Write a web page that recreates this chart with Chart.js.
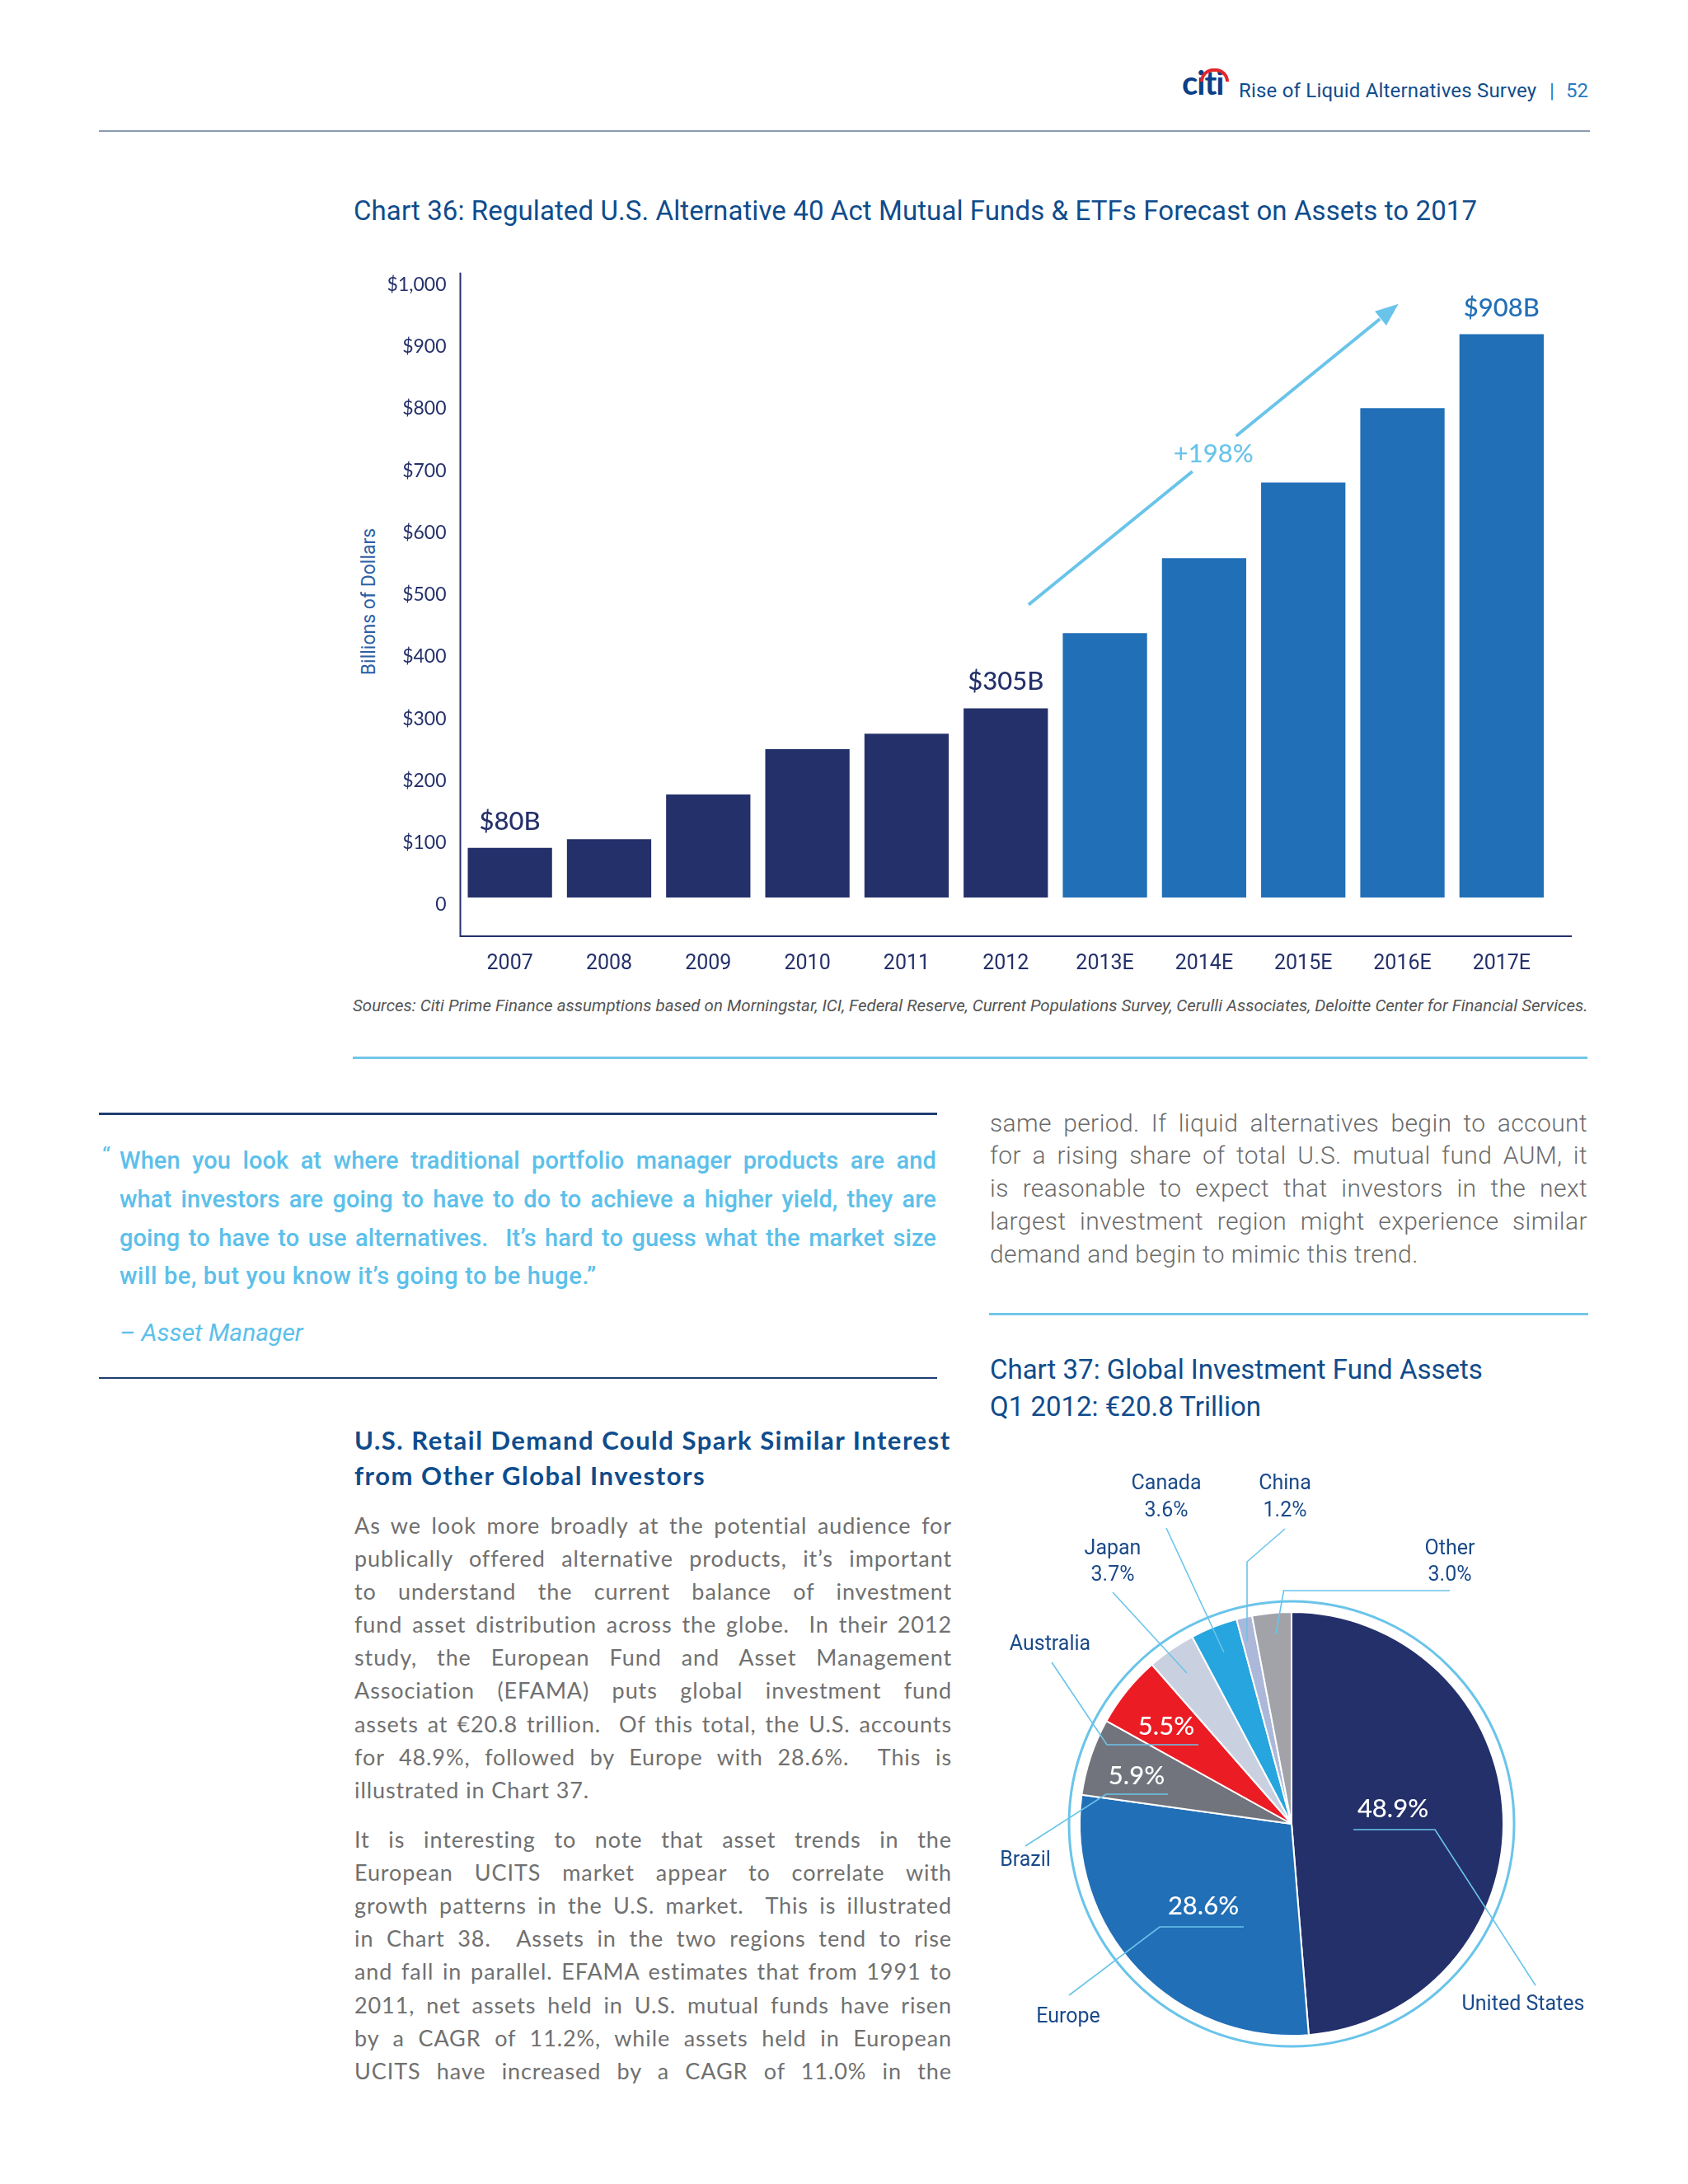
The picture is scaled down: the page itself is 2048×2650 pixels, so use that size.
<!DOCTYPE html>
<html>
<head>
<meta charset="utf-8">
<script src="https://cdn.jsdelivr.net/npm/chart.js@4.4.1/dist/chart.umd.min.js"></script>
<style>
  body { margin: 0; background: #fff; width: 2048px; height: 2650px; position: relative; overflow: hidden; font-family: Roboto, sans-serif; }
  .t { position: absolute; white-space: nowrap; }
  .rule { position: absolute; }
  .j { position: absolute; text-align: justify; text-align-last: justify; }
  .navy { color: #0f4c8c; }
  canvas { position: absolute; }
</style>
</head>
<body>

<!-- header -->
<div class="t" style="left:1434px;top:78px;font:bold 40px Lato;color:#0c3f87;letter-spacing:-1px;line-height:44px">citi</div>
<div style="position:absolute;left:1456px;top:83px;width:35px;height:16px;border:4px solid #e3262b;border-bottom:none;border-radius:20px 20px 0 0;box-sizing:border-box"></div>
<div class="t navy" style="left:1503px;top:95px;font-size:24px;line-height:30px;letter-spacing:0.2px">Rise of Liquid Alternatives Survey</div>
<div class="t" style="left:1880px;top:95px;font-size:24px;line-height:30px;color:#2a7bc0">|</div>
<div class="t" style="left:1900px;top:95px;font-size:24px;line-height:30px;color:#2a7bc0">52</div>
<div class="rule" style="left:120px;top:158px;width:1809px;height:2px;background:#8a9bb0"></div>

<!-- chart 36 -->
<div class="t navy" style="left:429px;top:236px;font-size:33px;line-height:40px;letter-spacing:0.1px">Chart 36: Regulated U.S. Alternative 40 Act Mutual Funds &amp; ETFs Forecast on Assets to 2017</div>
<div class="t" style="left:447px;top:730px;font-size:23px;color:#2d5fa6;transform:translate(-50%,-50%) rotate(-90deg)">Billions of Dollars</div>
<canvas id="bars" width="1560" height="900" style="left:400px;top:300px;width:1560px;height:900px"></canvas>
<div class="t" style="left:428px;top:1207px;font-size:20.5px;line-height:26px;font-style:italic;color:#555">Sources: Citi Prime Finance assumptions based on Morningstar, ICI, Federal Reserve, Current Populations Survey, Cerulli Associates, Deloitte Center for Financial Services.</div>
<div class="rule" style="left:428px;top:1282px;width:1498px;height:3px;background:#72c7ea"></div>

<!-- quote -->
<div class="rule" style="left:120px;top:1350px;width:1017px;height:3px;background:#1e3d72"></div>
<div class="t" style="left:124px;top:1386px;font-size:28px;line-height:34px;color:#5cc0ea">“</div>
<div style="font-size:29px;line-height:36px;color:#5cc0ea;font-weight:500;letter-spacing:0.1px">
  <div class="j" style="left:145px;top:1390px;width:991px">When you look at where traditional portfolio manager products are and</div>
  <div class="j" style="left:145px;top:1437px;width:991px">what investors are going to have to do to achieve a higher yield, they are</div>
  <div class="j" style="left:145px;top:1484px;width:991px">going to have to use alternatives.&nbsp; It’s hard to guess what the market size</div>
  <div class="t" style="left:145px;top:1530px;letter-spacing:0.6px">will be, but you know it’s going to be huge.”</div>
</div>
<div class="t" style="left:145px;top:1599px;font-size:30px;line-height:36px;color:#5cc0ea;font-style:italic">– Asset Manager</div>
<div class="rule" style="left:120px;top:1671px;width:1017px;height:2px;background:#1e3d72"></div>

<!-- right column text -->
<div style="font-size:30px;line-height:36px;color:#6b6b6b;font-weight:300;letter-spacing:0.4px">
  <div class="j" style="left:1201px;top:1345px;width:725px">same period. If liquid alternatives begin to account</div>
  <div class="j" style="left:1201px;top:1384px;width:725px">for a rising share of total U.S. mutual fund AUM, it</div>
  <div class="j" style="left:1201px;top:1424px;width:725px">is reasonable to expect that investors in the next</div>
  <div class="j" style="left:1201px;top:1464px;width:725px">largest investment region might experience similar</div>
  <div class="t" style="left:1201px;top:1504px">demand and begin to mimic this trend.</div>
</div>
<div class="rule" style="left:1200px;top:1593px;width:727px;height:3px;background:#72c7ea"></div>
<div class="t navy" style="left:1201px;top:1642px;font-size:33px;line-height:40px">Chart 37: Global Investment Fund Assets</div>
<div class="t navy" style="left:1201px;top:1687px;font-size:33px;line-height:40px">Q1 2012: €20.8 Trillion</div>

<!-- left column -->
<div class="t navy" style="left:430px;top:1729px;font:bold 31px Lato;line-height:36px;letter-spacing:1.5px">U.S. Retail Demand Could Spark Similar Interest</div>
<div class="t navy" style="left:430px;top:1772px;font:bold 31px Lato;line-height:36px;letter-spacing:1.5px">from Other Global Investors</div>
<div style="font:27px Lato;line-height:36px;color:#707070;letter-spacing:0.9px">
  <div class="j" style="left:430px;top:1833px;width:725px">As we look more broadly at the potential audience for</div>
  <div class="j" style="left:430px;top:1873px;width:725px">publically offered alternative products, it’s important</div>
  <div class="j" style="left:430px;top:1913px;width:725px">to understand the current balance of investment</div>
  <div class="j" style="left:430px;top:1953px;width:725px">fund asset distribution across the globe.&nbsp; In their 2012</div>
  <div class="j" style="left:430px;top:1993px;width:725px">study, the European Fund and Asset Management</div>
  <div class="j" style="left:430px;top:2033px;width:725px">Association (EFAMA) puts global investment fund</div>
  <div class="j" style="left:430px;top:2074px;width:725px">assets at €20.8 trillion.&nbsp; Of this total, the U.S. accounts</div>
  <div class="j" style="left:430px;top:2114px;width:725px">for 48.9%, followed by Europe with 28.6%.&nbsp; This is</div>
  <div class="t" style="left:430px;top:2154px">illustrated in Chart 37.</div>
  <div class="j" style="left:430px;top:2214px;width:725px">It is interesting to note that asset trends in the</div>
  <div class="j" style="left:430px;top:2254px;width:725px">European UCITS market appear to correlate with</div>
  <div class="j" style="left:430px;top:2294px;width:725px">growth patterns in the U.S. market.&nbsp; This is illustrated</div>
  <div class="j" style="left:430px;top:2334px;width:725px">in Chart 38.&nbsp; Assets in the two regions tend to rise</div>
  <div class="j" style="left:430px;top:2374px;width:725px">and fall in parallel. EFAMA estimates that from 1991 to</div>
  <div class="j" style="left:430px;top:2415px;width:725px">2011, net assets held in U.S. mutual funds have risen</div>
  <div class="j" style="left:430px;top:2455px;width:725px">by a CAGR of 11.2%, while assets held in European</div>
  <div class="j" style="left:430px;top:2495px;width:725px">UCITS have increased by a CAGR of 11.0% in the</div>
</div>

<canvas id="pie" width="800" height="760" style="left:1180px;top:1760px;width:800px;height:760px"></canvas>

<script>
// Chart 36 - assets in $ billions
const years = ['2007', '2008', '2009', '2010', '2011', '2012', '2013E', '2014E', '2015E', '2016E', '2017E'];
const assets = [80, 94, 166, 239, 264, 305, 426, 547, 669, 789, 908];
const yTicks = [0, 100, 200, 300, 400, 500, 600, 700, 800, 900, 1000];

// Chart 37 - share of global fund assets (%)
const regions = ['United States', 'Europe', 'Brazil', 'Australia', 'Japan', 'Canada', 'China', 'Other'];
const shares = [48.9, 28.6, 5.9, 5.5, 3.7, 3.6, 1.2, 3.0];

const NAVY = '#24306a';
const BLUE = '#216fb7';
const SKY = '#6ac4ea';
const sliceColors = [NAVY, BLUE, '#71747c', '#ec1c24', '#c9d1e1', '#26a5de', '#abb8d9', '#a1a3a9'];

Chart.defaults.font.family = 'Roboto';

// axis lines (x axis runs a bit past the last bar)
const axisLines = {
  id: 'axisLines',
  afterDraw(chart) {
    const { ctx, chartArea: a } = chart;
    ctx.save();
    ctx.strokeStyle = NAVY;
    ctx.lineWidth = 2;
    ctx.beginPath();
    ctx.moveTo(a.left, a.top);
    ctx.lineTo(a.left, a.bottom);
    ctx.lineTo(a.right + 25, a.bottom);
    ctx.stroke();
    ctx.restore();
  }
};

// value callouts and the growth arrow
const callouts = [
  { year: '2007', color: NAVY },
  { year: '2012', color: NAVY },
  { year: '2017E', color: BLUE }
];

const barNotes = {
  id: 'barNotes',
  afterDatasetsDraw(chart) {
    const { ctx, scales: { x, y } } = chart;
    ctx.save();
    ctx.font = '500 31px Lato';
    ctx.textAlign = 'center';
    ctx.textBaseline = 'middle';
    callouts.forEach(c => {
      const i = years.indexOf(c.year);
      ctx.fillStyle = c.color;
      ctx.fillText('$' + assets[i] + 'B', x.getPixelForValue(i), y.getPixelForValue(assets[i]) - 32);
    });

    // arrow from 2012 to 2017E
    const x0 = x.getPixelForValue(5.23), y0 = y.getPixelForValue(472);
    const x1 = x.getPixelForValue(8.96), y1 = y.getPixelForValue(957);
    const dx = x1 - x0, dy = y1 - y0;
    ctx.strokeStyle = SKY;
    ctx.fillStyle = SKY;
    ctx.lineWidth = 4;
    ctx.beginPath();
    ctx.moveTo(x0, y0);
    ctx.lineTo(x0 + dx * 0.443, y0 + dy * 0.443);
    ctx.moveTo(x0 + dx * 0.561, y0 + dy * 0.561);
    ctx.lineTo(x0 + dx * 0.95, y0 + dy * 0.95);
    ctx.stroke();
    const ang = Math.atan2(dy, dx);
    ctx.beginPath();
    ctx.moveTo(x1, y1);
    ctx.lineTo(x1 - 28 * Math.cos(ang) + 11 * Math.sin(ang), y1 - 28 * Math.sin(ang) - 11 * Math.cos(ang));
    ctx.lineTo(x1 - 28 * Math.cos(ang) - 11 * Math.sin(ang), y1 - 28 * Math.sin(ang) + 11 * Math.cos(ang));
    ctx.closePath();
    ctx.fill();

    const growth = Math.round((assets[10] / assets[5] - 1) * 100);
    ctx.fillText('+' + growth + '%', x0 + dx * 0.5, y0 + dy * 0.5);
    ctx.restore();
  }
};

new Chart(document.getElementById('bars'), {
  type: 'bar',
  data: {
    labels: years,
    datasets: [{
      data: assets,
      backgroundColor: years.map(yr => yr.endsWith('E') ? BLUE : NAVY),
      barPercentage: 0.85,
      categoryPercentage: 1
    }]
  },
  options: {
    responsive: false,
    animation: false,
    layout: { padding: { top: 24, right: 78, left: 0, bottom: 0 } },
    plugins: { legend: { display: false }, tooltip: { enabled: false } },
    scales: {
      x: {
        grid: { display: false, drawTicks: false },
        border: { display: false },
        ticks: { color: NAVY, font: { size: 25 }, padding: 19, maxRotation: 0, autoSkip: false },
        afterFit(s) { s.height = 64; }
      },
      y: {
        min: -62.5,
        max: 1007.4,
        grid: { display: false, drawTicks: false },
        border: { display: false },
        afterBuildTicks(s) { s.ticks = yTicks.map(v => ({ value: v })); },
        ticks: {
          color: NAVY,
          font: { family: 'Lato', size: 23 },
          padding: 17,
          labelOffset: 9,
          callback: v => v === 0 ? '0' : '$' + v.toLocaleString('en-US')
        },
        afterFit(s) { s.width = 158.5; }
      }
    }
  },
  plugins: [axisLines, barNotes]
});

// pie labels: offsets from pie centre, hand placed like the original
const pieLabels = [
  { region: 'United States', inside: [123, -18], name: [281, 220], leader: [[75, 7], [174, 7], [296, 196]] },
  { region: 'Europe', inside: [-107, 100], name: [-271, 235], leader: [[-58, 125], [-160, 125], [-270, 208]] },
  { region: 'Brazil', inside: [-188, -58], name: [-323, 45], leader: [[-150, -36], [-225, -36], [-323, 27]] },
  { region: 'Australia', inside: [-152, -118], name: [-293, -217], leader: [[-113, -96], [-224, -96], [-291, -196]] },
  { region: 'Japan', name: [-217, -333], pct: [-217, -301], leader: [[-217, -281], [-127, -183]] },
  { region: 'Canada', name: [-152, -412], pct: [-152, -379], leader: [[-152, -359], [-82, -208]] },
  { region: 'China', name: [-8, -412], pct: [-8, -379], leader: [[-8, -358], [-54, -318], [-54, -221]] },
  { region: 'Other', name: [192, -333], pct: [192, -301], leader: [[192, -283], [-9.5, -283], [-19, -230]] }
];

const pieNotes = {
  id: 'pieNotes',
  afterDraw(chart) {
    const arc = chart.getDatasetMeta(0).data[0];
    const cx = arc.x, cy = arc.y;
    const ctx = chart.ctx;
    ctx.save();
    ctx.strokeStyle = SKY;
    ctx.lineWidth = 3;
    ctx.beginPath();
    ctx.arc(cx, cy, arc.outerRadius + 13, 0, Math.PI * 2);
    ctx.stroke();

    ctx.lineWidth = 1.6;
    ctx.textAlign = 'center';
    ctx.textBaseline = 'middle';
    pieLabels.forEach(p => {
      const pct = shares[regions.indexOf(p.region)].toFixed(1) + '%';
      ctx.beginPath();
      p.leader.forEach(([dx, dy], k) => k ? ctx.lineTo(cx + dx, cy + dy) : ctx.moveTo(cx + dx, cy + dy));
      ctx.stroke();
      ctx.fillStyle = '#1a4a8a';
      ctx.font = '25px Roboto';
      ctx.fillText(p.region, cx + p.name[0], cy + p.name[1]);
      if (p.pct) {
        ctx.fillText(pct, cx + p.pct[0], cy + p.pct[1]);
      } else {
        ctx.fillStyle = '#fff';
        ctx.font = '500 31px Lato';
        ctx.fillText(pct, cx + p.inside[0], cy + p.inside[1]);
      }
    });
    ctx.restore();
  }
};

new Chart(document.getElementById('pie'), {
  type: 'pie',
  data: {
    labels: regions,
    datasets: [{
      data: shares,
      backgroundColor: sliceColors,
      borderColor: '#fff',
      borderWidth: 2,
      hoverOffset: 0
    }]
  },
  options: {
    responsive: false,
    animation: false,
    layout: { padding: { left: 129, right: 155, top: 195, bottom: 49 } },
    plugins: { legend: { display: false }, tooltip: { enabled: false } }
  },
  plugins: [pieNotes]
});
</script>
</body>
</html>
